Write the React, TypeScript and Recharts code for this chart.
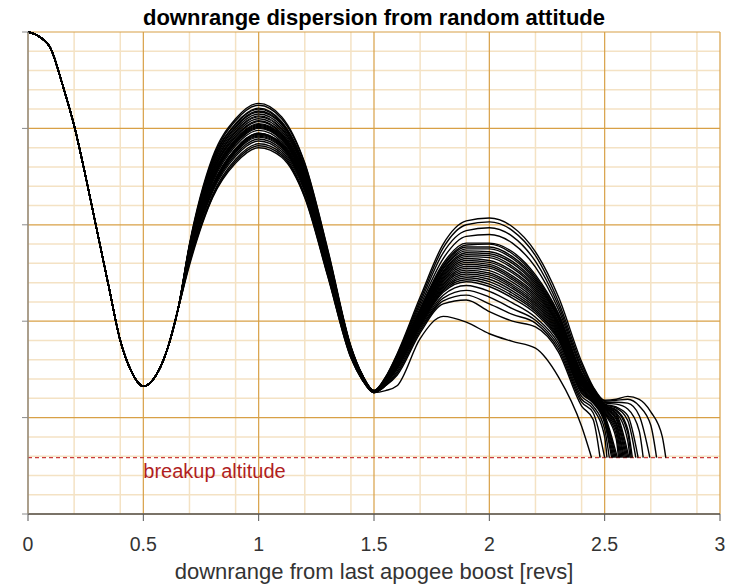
import { CartesianGrid, Line, LineChart, ReferenceDot, ReferenceLine, XAxis, YAxis } from "recharts";

const W = 730;
const H = 586;

const xTicks = [0, 0.5, 1, 1.5, 2, 2.5, 3];
const yTicks = [0, 1, 2, 3, 4, 5];
const minorX = [0.1, 0.2, 0.3, 0.4, 0.6, 0.7, 0.8, 0.9, 1.1, 1.2, 1.3, 1.4, 1.6, 1.7, 1.8, 1.9, 2.1, 2.2, 2.3, 2.4, 2.6, 2.7, 2.8, 2.9];
const minorY = [0.2, 0.4, 0.6, 0.8, 1.2, 1.4, 1.6, 1.8, 2.2, 2.4, 2.6, 2.8, 3.2, 3.4, 3.6, 3.8, 4.2, 4.4, 4.6, 4.8];

const BREAKUP = 0.585;

// single trajectory before the runs fan out
const commonX = [0, 0.05, 0.1, 0.15, 0.2, 0.25, 0.3, 0.35, 0.4, 0.45, 0.475, 0.5, 0.525, 0.55, 0.6, 0.65];
const commonY = [5.0, 4.95, 4.82, 4.45, 4.03, 3.5, 2.93, 2.36, 1.8, 1.47, 1.37, 1.325, 1.35, 1.42, 1.68, 2.12];

const bandX = [0.7, 0.8, 0.9, 1.0, 1.1, 1.2, 1.3, 1.4, 1.45, 1.5, 1.55, 1.6, 1.7, 1.8, 1.9, 2.0, 2.1, 2.2, 2.3, 2.4];
const bandY = [
  [2.8, 3.7, 4.1, 4.26, 4.12, 3.64, 2.74, 1.74, 1.44, 1.28, 1.42, 1.66, 2.25, 2.8, 3.04, 3.07, 2.98, 2.72, 2.25, 1.58],
  [2.79, 3.68, 4.08, 4.24, 4.1, 3.63, 2.73, 1.73, 1.44, 1.28, 1.42, 1.65, 2.22, 2.76, 3.0, 3.03, 2.94, 2.68, 2.2, 1.55],
  [2.78, 3.66, 4.05, 4.21, 4.07, 3.6, 2.71, 1.73, 1.44, 1.28, 1.41, 1.64, 2.19, 2.71, 2.94, 2.97, 2.88, 2.62, 2.16, 1.52],
  [2.77, 3.63, 4.02, 4.18, 4.05, 3.58, 2.7, 1.72, 1.43, 1.28, 1.41, 1.63, 2.16, 2.65, 2.88, 2.9, 2.81, 2.56, 2.12, 1.5],
  [2.76, 3.6, 3.99, 4.15, 4.02, 3.56, 2.68, 1.71, 1.43, 1.27, 1.4, 1.62, 2.13, 2.6, 2.81, 2.81, 2.72, 2.48, 2.08, 1.47],
  [2.75, 3.58, 3.97, 4.13, 4.0, 3.55, 2.67, 1.71, 1.43, 1.27, 1.4, 1.61, 2.11, 2.57, 2.77, 2.77, 2.67, 2.44, 2.05, 1.45],
  [2.74, 3.55, 3.94, 4.1, 3.97, 3.52, 2.65, 1.7, 1.42, 1.27, 1.39, 1.6, 2.09, 2.54, 2.73, 2.72, 2.62, 2.4, 2.03, 1.43],
  [2.73, 3.54, 3.92, 4.08, 3.95, 3.51, 2.64, 1.69, 1.42, 1.27, 1.39, 1.59, 2.07, 2.51, 2.69, 2.68, 2.57, 2.36, 2.0, 1.41],
  [2.72, 3.51, 3.89, 4.05, 3.93, 3.49, 2.62, 1.68, 1.42, 1.27, 1.38, 1.58, 2.06, 2.48, 2.65, 2.63, 2.52, 2.32, 1.97, 1.39],
  [2.71, 3.49, 3.87, 4.03, 3.91, 3.46, 2.6, 1.68, 1.42, 1.27, 1.38, 1.57, 2.04, 2.45, 2.61, 2.59, 2.47, 2.28, 1.95, 1.37],
  [2.7, 3.46, 3.84, 4.0, 3.88, 3.44, 2.58, 1.67, 1.41, 1.27, 1.38, 1.56, 2.02, 2.42, 2.57, 2.55, 2.43, 2.24, 1.92, 1.35],
  [2.69, 3.44, 3.82, 3.98, 3.86, 3.43, 2.57, 1.67, 1.41, 1.27, 1.37, 1.55, 2.0, 2.39, 2.53, 2.5, 2.38, 2.2, 1.89, 1.33],
  [2.68, 3.41, 3.79, 3.95, 3.84, 3.4, 2.55, 1.66, 1.41, 1.27, 1.37, 1.54, 1.99, 2.36, 2.49, 2.46, 2.34, 2.16, 1.86, 1.3],
  [2.67, 3.39, 3.77, 3.93, 3.82, 3.39, 2.54, 1.65, 1.4, 1.27, 1.36, 1.53, 1.97, 2.33, 2.45, 2.41, 2.29, 2.12, 1.83, 1.28],
  [2.66, 3.37, 3.75, 3.91, 3.8, 3.37, 2.53, 1.65, 1.4, 1.26, 1.35, 1.51, 1.95, 2.3, 2.41, 2.36, 2.24, 2.08, 1.8, 1.25],
  [2.65, 3.36, 3.73, 3.89, 3.78, 3.36, 2.52, 1.64, 1.4, 1.26, 1.35, 1.5, 1.94, 2.27, 2.37, 2.31, 2.19, 2.04, 1.77, 1.22],
  [2.63, 3.34, 3.71, 3.87, 3.76, 3.34, 2.5, 1.64, 1.39, 1.26, 1.34, 1.48, 1.92, 2.24, 2.32, 2.25, 2.13, 2.01, 1.74, 1.19],
  [2.61, 3.31, 3.68, 3.84, 3.74, 3.31, 2.48, 1.63, 1.39, 1.26, 1.33, 1.46, 1.9, 2.21, 2.27, 2.18, 2.07, 1.98, 1.71, 1.16],
  [2.6, 3.29, 3.66, 3.82, 3.72, 3.29, 2.47, 1.62, 1.39, 1.26, 1.33, 1.44, 1.88, 2.18, 2.22, 2.1, 2.0, 1.94, 1.68, 1.12],
  [2.58, 3.28, 3.64, 3.8, 3.7, 3.28, 2.46, 1.62, 1.39, 1.26, 1.28, 1.33, 1.82, 2.05, 1.99, 1.87, 1.79, 1.72, 1.42, 0.91],
  [2.68, 3.41, 3.79, 3.95, 3.84, 3.4, 2.55, 1.66, 1.41, 1.27, 1.4, 1.61, 2.12, 2.58, 2.79, 2.8, 2.7, 2.46, 2.07, 1.46],
  [2.75, 3.57, 3.96, 4.12, 3.99, 3.54, 2.66, 1.7, 1.42, 1.27, 1.39, 1.6, 2.1, 2.55, 2.75, 2.75, 2.65, 2.42, 2.04, 1.44],
  [2.71, 3.48, 3.86, 4.02, 3.9, 3.45, 2.59, 1.68, 1.42, 1.27, 1.39, 1.59, 2.08, 2.52, 2.71, 2.7, 2.6, 2.38, 2.02, 1.42],
  [2.78, 3.65, 4.04, 4.2, 4.06, 3.59, 2.71, 1.73, 1.44, 1.28, 1.39, 1.585, 2.065, 2.495, 2.67, 2.66, 2.55, 2.34, 1.985, 1.4],
  [2.66, 3.38, 3.76, 3.92, 3.81, 3.38, 2.54, 1.65, 1.4, 1.27, 1.38, 1.575, 2.05, 2.465, 2.63, 2.61, 2.5, 2.3, 1.96, 1.38],
  [2.74, 3.53, 3.91, 4.07, 3.94, 3.5, 2.63, 1.69, 1.42, 1.27, 1.38, 1.565, 2.03, 2.435, 2.59, 2.57, 2.45, 2.26, 1.935, 1.36],
  [2.7, 3.47, 3.85, 4.01, 3.89, 3.45, 2.59, 1.67, 1.41, 1.27, 1.38, 1.555, 2.01, 2.405, 2.55, 2.525, 2.405, 2.22, 1.905, 1.34],
  [2.77, 3.62, 4.01, 4.17, 4.04, 3.57, 2.69, 1.72, 1.43, 1.28, 1.37, 1.545, 1.995, 2.375, 2.51, 2.48, 2.36, 2.18, 1.875, 1.315],
  [2.67, 3.4, 3.78, 3.94, 3.83, 3.39, 2.55, 1.66, 1.41, 1.27, 1.37, 1.535, 1.98, 2.345, 2.47, 2.435, 2.315, 2.14, 1.845, 1.29],
  [2.72, 3.5, 3.88, 4.04, 3.92, 3.47, 2.61, 1.68, 1.42, 1.27, 1.36, 1.52, 1.96, 2.315, 2.43, 2.385, 2.265, 2.1, 1.815, 1.265],
];

// tail after 2.4, then each run stops where it hits breakup altitude
const tailX = [2.45, 2.5, 2.55, 2.6, 2.65, 2.7, 2.75];
const tailY = [
  [1.32, 1.18, 1.19, 1.22, 1.19, 1.06, 0.8],
  [1.31, 1.17, 1.18, 1.19, 1.12, 0.92],
  [1.3, 1.16, 1.16, 1.15, 1.02],
  [1.29, 1.15, 1.14, 1.09, 0.86],
  [1.28, 1.14, 1.11, 1.02],
  [1.27, 1.13, 1.08, 0.88],
  [1.26, 1.12, 1.05, 0.76],
  [1.25, 1.11, 1.02],
  [1.24, 1.1, 0.98],
  [1.23, 1.08, 0.93],
  [1.22, 1.06, 0.87],
  [1.21, 1.04, 0.78],
  [1.19, 1.01],
  [1.17, 0.98],
  [1.15, 0.94],
  [1.12, 0.88],
  [1.09, 0.8],
  [1.05],
  [0.98],
  [],
  [1.275, 1.135, 1.1, 0.97],
  [1.265, 1.125, 1.07, 0.84],
  [1.255, 1.115, 1.04],
  [1.245, 1.105, 1.0],
  [1.235, 1.09, 0.95],
  [1.225, 1.07, 0.9],
  [1.215, 1.05, 0.83],
  [1.2, 1.025],
  [1.18, 0.995],
  [1.16, 0.96],
];
const endX = [
  2.765, 2.725, 2.696, 2.667, 2.645, 2.62, 2.61, 2.6, 2.59, 2.58, 2.57, 2.56, 2.55, 2.54, 2.53, 2.52, 2.51, 2.5, 2.48, 2.443,
  2.635, 2.615, 2.605, 2.595, 2.585, 2.575, 2.565, 2.555, 2.545, 2.535,
];

const runs = bandY.map((band, i) => [
  ...commonX.map((x, j) => ({ x, y: commonY[j] })),
  ...bandX.map((x, j) => ({ x, y: band[j] })),
  ...tailY[i].map((y, j) => ({ x: tailX[j], y })),
  { x: endX[i], y: BREAKUP },
]);

const FONT = "'Liberation Sans', Arial, sans-serif";

const BreakupLabel = ({ viewBox }: any) => (
  <text x={viewBox.x} y={viewBox.y + 20} fill="#b01e1e" fontSize={20} fontFamily={FONT}>
    breakup altitude
  </text>
);

export default function App() {
  return (
    <div style={{ position: "absolute", left: 0, top: 0, width: W, height: H, background: "#fff", fontFamily: FONT }}>
      <div
        style={{
          position: "absolute",
          top: 7,
          left: 28,
          width: 692,
          textAlign: "center",
          fontSize: 22,
          lineHeight: "22px",
          fontWeight: "bold",
          color: "#000",
        }}
      >
        downrange dispersion from random attitude
      </div>
      <LineChart width={W} height={H} margin={{ top: 32, right: 10, bottom: 0, left: 0 }}>
        <CartesianGrid verticalValues={minorX} horizontalValues={minorY} stroke="#f4e2c4" strokeWidth={1.5} />
        <CartesianGrid verticalValues={xTicks} horizontalValues={yTicks} stroke="#d8a046" strokeWidth={1.2} />
        <XAxis
          type="number"
          dataKey="x"
          domain={[0, 3]}
          ticks={xTicks}
          height={72}
          tickSize={7}
          tickMargin={16}
          axisLine={{ stroke: "#555", strokeWidth: 1.3 }}
          tickLine={{ stroke: "#555" }}
          tick={{ fill: "#333", fontSize: 19.5, fontFamily: FONT }}
          label={{
            value: "downrange from last apogee boost [revs]",
            position: "insideBottom",
            offset: 7,
            fill: "#333",
            fontSize: 22,
            fontFamily: FONT,
          }}
        />
        <YAxis
          type="number"
          domain={[0, 5]}
          ticks={yTicks}
          width={28}
          tickSize={6}
          tickFormatter={() => ""}
          axisLine={{ stroke: "#8a8a8a", strokeWidth: 1.3 }}
          tickLine={{ stroke: "#8a8a8a" }}
        />
        <ReferenceLine y={BREAKUP} stroke="#cc3d3d" strokeWidth={1.3} strokeDasharray="4 3" />
        <ReferenceDot x={0.5} y={BREAKUP} r={0} stroke="none" fill="none" label={<BreakupLabel />} />
        {runs.map((pts, i) => (
          <Line
            key={`run-${i}`}
            data={pts}
            dataKey="y"
            type="monotone"
            stroke="#000"
            strokeWidth={1.4}
            dot={false}
            activeDot={false}
            isAnimationActive={false}
          />
        ))}
      </LineChart>
    </div>
  );
}
